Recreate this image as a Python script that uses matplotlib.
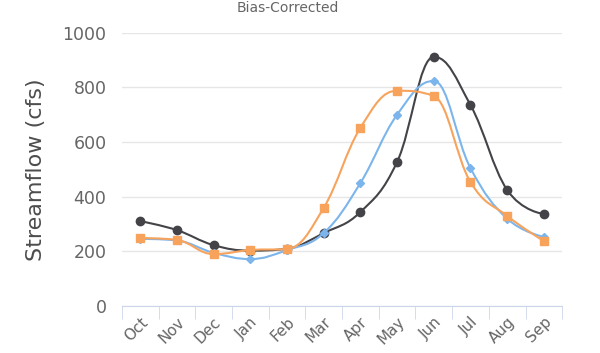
import numpy as np
import matplotlib
matplotlib.use("Agg")
import matplotlib.pyplot as plt
from matplotlib.path import Path
from matplotlib.patches import PathPatch

months = ["Oct", "Nov", "Dec", "Jan", "Feb", "Mar", "Apr", "May", "Jun", "Jul", "Aug", "Sep"]
observed = [311, 278, 223, 203, 210, 267, 344, 527, 912, 736, 425, 337]
simulated = [246, 240, 195, 172, 205, 267, 450, 700, 824, 505, 320, 253]
bias_corrected = [249, 242, 190, 205, 209, 359, 652, 788, 769, 454, 330, 238]

SERIES = [
    (observed, "#434348", "o", 6),
    (simulated, "#7cb5ec", "D", 4.2),
    (bias_corrected, "#f7a35c", "s", 5.5),
]


def spline_path(xs, ys, smoothing=1.5):
    # highcharts-style spline through the points
    n = len(xs)
    denom = smoothing + 1
    left = [(xs[i], ys[i]) for i in range(n)]
    right = [(xs[i], ys[i]) for i in range(n)]
    for i in range(1, n - 1):
        px, py = xs[i], ys[i]
        lx, ly = xs[i - 1], ys[i - 1]
        nx, ny = xs[i + 1], ys[i + 1]
        lcx = (smoothing * px + lx) / denom
        lcy = (smoothing * py + ly) / denom
        rcx = (smoothing * px + nx) / denom
        rcy = (smoothing * py + ny) / denom
        if rcx != lcx:
            corr = (rcy - lcy) * (rcx - px) / (rcx - lcx) + py - rcy
            lcy += corr
            rcy += corr
        if lcy > ly and lcy > py:
            lcy = max(ly, py)
            rcy = 2 * py - lcy
        elif lcy < ly and lcy < py:
            lcy = min(ly, py)
            rcy = 2 * py - lcy
        if rcy > ny and rcy > py:
            rcy = max(ny, py)
            lcy = 2 * py - rcy
        elif rcy < ny and rcy < py:
            rcy = min(ny, py)
            lcy = 2 * py - rcy
        left[i] = (lcx, lcy)
        right[i] = (rcx, rcy)
    verts = [(xs[0], ys[0])]
    codes = [Path.MOVETO]
    for i in range(1, n):
        verts += [right[i - 1], left[i], (xs[i], ys[i])]
        codes += [Path.CURVE4] * 3
    return Path(verts, codes)


fig = plt.figure(figsize=(6, 3.53), dpi=100)
ax = fig.add_axes([0.203, 0.133, 0.734, 0.774])

x = np.arange(len(months))
for i, (vals, color, marker, ms) in enumerate(SERIES):
    path = spline_path(list(x), vals)
    ax.add_patch(PathPatch(path, facecolor="none", edgecolor=color, lw=1.5, zorder=2 + i))
    ax.plot(x, vals, linestyle="none", marker=marker, color=color, ms=ms, zorder=2.5 + i)

ax.set_xlim(-0.5, 11.5)
ax.set_ylim(0, 1000)
ax.set_yticks([0, 200, 400, 600, 800, 1000])
ax.grid(axis="y", color="#e6e6e6", lw=1)
ax.set_axisbelow(True)
for s in ["top", "right", "left"]:
    ax.spines[s].set_visible(False)
ax.spines["bottom"].set_color("#ccd6eb")
ax.tick_params(axis="y", length=0, labelsize=12.5, labelcolor="#666666", pad=11)

ax.set_xticks(x)
ax.set_xticklabels(months, rotation=45, ha="right", rotation_mode="anchor",
                   fontsize=11, color="#666666")
ax.set_xticks(np.arange(-0.5, 12, 1), minor=True)
ax.tick_params(axis="x", which="major", length=0, pad=6)
ax.tick_params(axis="x", which="minor", length=9, color="#ccd6eb", direction="out")

ax.set_ylabel("Streamflow (cfs)", fontsize=16, color="#4d4d4d", labelpad=12)
fig.text(288 / 600, 1 - 8 / 353, "Bias-Corrected", ha="center", va="center",
         fontsize=10, color="#666666")

fig.savefig("out.png", dpi=100)
